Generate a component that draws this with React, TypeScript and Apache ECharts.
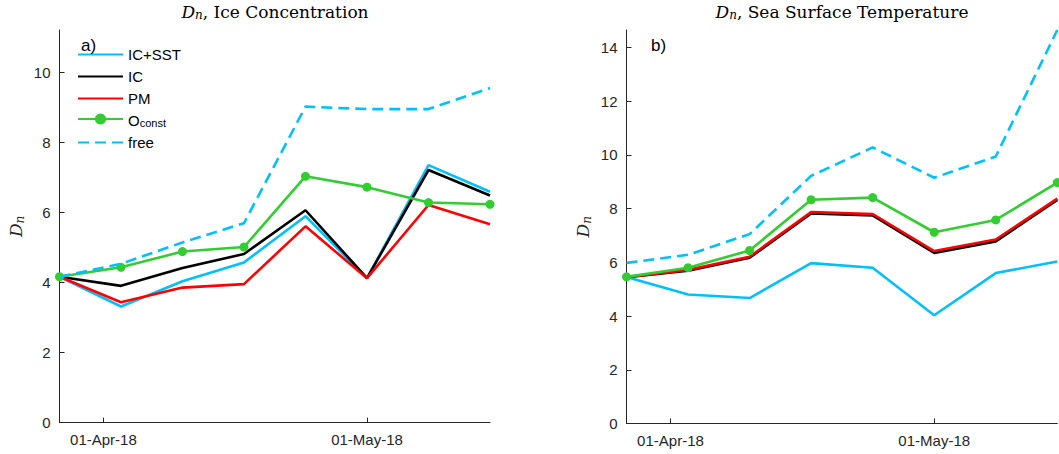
import React, { useEffect, useRef } from "react";
import * as echarts from "echarts";

// ---- data ----
const dates = ["2018-03-27", "2018-04-03", "2018-04-10", "2018-04-17", "2018-04-24", "2018-05-01", "2018-05-08", "2018-05-15"];
const seriesNames = ["IC+SST", "IC", "PM", "Oconst", "free"];

// panel a) Ice Concentration
const icA_icsst = [4.17, 3.32, 4.04, 4.58, 5.9, 4.13, 7.36, 6.6];
const icA_ic = [4.17, 3.91, 4.42, 4.82, 6.07, 4.13, 7.22, 6.49];
const icA_pm = [4.17, 3.44, 3.86, 3.96, 5.61, 4.13, 6.22, 5.67];
const icA_oconst = [4.17, 4.44, 4.89, 5.02, 7.04, 6.73, 6.29, 6.24];
const icA_free = [4.17, 4.54, 5.15, 5.7, 9.03, 8.96, 8.96, 9.56];

// panel b) Sea Surface Temperature
const sstB_icsst = [5.45, 4.8, 4.67, 5.97, 5.8, 4.03, 5.6, 6.03];
const sstB_ic = [5.45, 5.69, 6.17, 7.82, 7.75, 6.35, 6.78, 8.32];
const sstB_pm = [5.45, 5.72, 6.21, 7.87, 7.8, 6.42, 6.85, 8.37];
const sstB_oconst = [5.46, 5.8, 6.44, 8.33, 8.41, 7.12, 7.58, 8.97];
const sstB_free = [5.98, 6.28, 7.05, 9.22, 10.28, 9.15, 9.94, 14.65];

const xTickDates = ["2018-04-01", "2018-05-01"];
const xTickLabels = ["01-Apr-18", "01-May-18"];
const yTicksA = [0, 2, 4, 6, 8, 10];
const yTicksB = [0, 2, 4, 6, 8, 10, 12, 14];
const yMaxA = 11.22;
const yMaxB = 14.65;

const DAY = 86400000;
const ts = (s: string) => Math.round(new Date(s + "T00:00:00Z").getTime() / DAY);

const COLORS: Record<string, string> = {
  "IC+SST": "#00BFFF",
  IC: "#000000",
  PM: "#FF0000",
  Oconst: "#33CC33",
  free: "#00BFFF",
};

const AXIS_COLOR = "#262626";
const SANS = "'Liberation Sans', Arial, Helvetica, sans-serif";
const SERIF = "'DejaVu Serif', 'Liberation Serif', serif";

function makeSeries(values: number[][], idx: number) {
  return seriesNames.map((name, k) => {
    const isDash = name === "free";
    const isMarker = name === "Oconst";
    return {
      type: "line",
      name,
      xAxisIndex: idx,
      yAxisIndex: idx,
      data: dates.map((d, i) => [ts(d), values[k][i]]),
      symbol: isMarker ? "circle" : "none",
      symbolSize: 9,
      showSymbol: isMarker,
      clip: false,
      z: 2 + k,
      itemStyle: { color: COLORS[name] },
      lineStyle: {
        color: COLORS[name],
        width: 2.6,
        type: isDash ? [11, 6] : "solid",
      },
      emphasis: { disabled: true },
    };
  });
}

function subRich(color: string, withText: boolean) {
  const base = { fontFamily: SERIF, fontWeight: "normal", color, verticalAlign: "top" };
  const r: any = {
    d: { ...base, fontStyle: "italic", fontSize: 17, lineHeight: 22 },
    n: { ...base, fontStyle: "italic", fontSize: 12, lineHeight: 22, padding: [6, 0, 0, 0] },
  };
  if (withText) r.t = { ...base, fontSize: 17, lineHeight: 22 };
  return r;
}

export default function App() {
  const ref = useRef<HTMLDivElement>(null);
  useEffect(() => {
    if (!ref.current) return;
    const chart = echarts.init(ref.current, undefined, { renderer: "svg" });
    const tickVals = xTickDates.map(ts);
    const xAxis = (gridIndex: number) => ({
      type: "value",
      gridIndex,
      min: ts(dates[0]),
      max: ts(dates[dates.length - 1]),
      axisLine: { show: true, onZero: false, lineStyle: { color: AXIS_COLOR, width: 1 } },
      axisTick: { show: true, inside: true, length: 5, customValues: tickVals, lineStyle: { color: AXIS_COLOR } },
      axisLabel: {
        customValues: tickVals,
        formatter: (v: number) => {
          const i = tickVals.indexOf(v);
          return i >= 0 ? xTickLabels[i] : "";
        },
        color: AXIS_COLOR,
        fontSize: 15,
        fontFamily: SANS,
        margin: 9,
      },
      splitLine: { show: false },
    });
    const yAxis = (gridIndex: number, max: number, ticks: number[]) => ({
      type: "value",
      gridIndex,
      min: 0,
      max,
      name: "{d|D}{n|n}",
      nameLocation: "middle",
      nameGap: 30,
      nameRotate: 90,
      nameTextStyle: { rich: subRich(AXIS_COLOR, false) },
      axisLine: { show: true, lineStyle: { color: AXIS_COLOR, width: 1 } },
      axisTick: { show: true, inside: true, length: 5, customValues: ticks, lineStyle: { color: AXIS_COLOR } },
      axisLabel: { customValues: ticks, color: AXIS_COLOR, fontSize: 15, fontFamily: SANS, margin: 9 },
      splitLine: { show: false },
    });
    const titleStyle = { fontWeight: "normal", fontFamily: SERIF, fontSize: 17, rich: subRich("#000", true) };
    const option = {
      animation: false,
      backgroundColor: "#ffffff",
      title: [
        { text: "{d|D}{n|n}{t|, Ice Concentration}", left: 275, textAlign: "center", top: 3, padding: 0, textStyle: titleStyle },
        { text: "{d|D}{n|n}{t|, Sea Surface Temperature}", left: 842, textAlign: "center", top: 3, padding: 0, textStyle: titleStyle },
        { text: "a)", left: 76, top: 32, textStyle: { fontFamily: SANS, fontSize: 17, fontWeight: "normal", color: "#000" } },
        { text: "b)", left: 646, top: 32, textStyle: { fontFamily: SANS, fontSize: 17, fontWeight: "normal", color: "#000" } },
      ],
      legend: {
        orient: "vertical",
        left: 77,
        top: 47,
        itemWidth: 45,
        itemHeight: 14,
        itemGap: 7,
        padding: 0,
        selectedMode: false,
        data: seriesNames.map((n) => (n === "Oconst" ? { name: n } : { name: n, itemStyle: { opacity: 0 } })),
        formatter: (name: string) => (name === "Oconst" ? "{o|O}{s|const}" : name),
        textStyle: {
          fontFamily: SANS,
          fontSize: 15,
          color: "#000",
          rich: {
            o: { fontFamily: SANS, fontSize: 15, color: "#000", lineHeight: 18, verticalAlign: "bottom" },
            s: { fontFamily: SANS, fontSize: 11, color: "#000", lineHeight: 4, verticalAlign: "bottom" },
          },
        },
      },
      grid: [
        { left: 59.5, right: 569, top: 30, bottom: 31.3, containLabel: false },
        { left: 626.5, right: 1.7, top: 30, bottom: 30.5, containLabel: false },
      ],
      xAxis: [xAxis(0), xAxis(1)],
      yAxis: [yAxis(0, yMaxA, yTicksA), yAxis(1, yMaxB, yTicksB)],
      series: [
        ...makeSeries([icA_icsst, icA_ic, icA_pm, icA_oconst, icA_free], 0),
        ...makeSeries([sstB_icsst, sstB_ic, sstB_pm, sstB_oconst, sstB_free], 1),
      ],
    };
    chart.setOption(option as any);
    return () => chart.dispose();
  }, []);
  return <div ref={ref} style={{ position: "fixed", left: 0, top: 0, width: 1059, height: 454, background: "#fff" }} />;
}
